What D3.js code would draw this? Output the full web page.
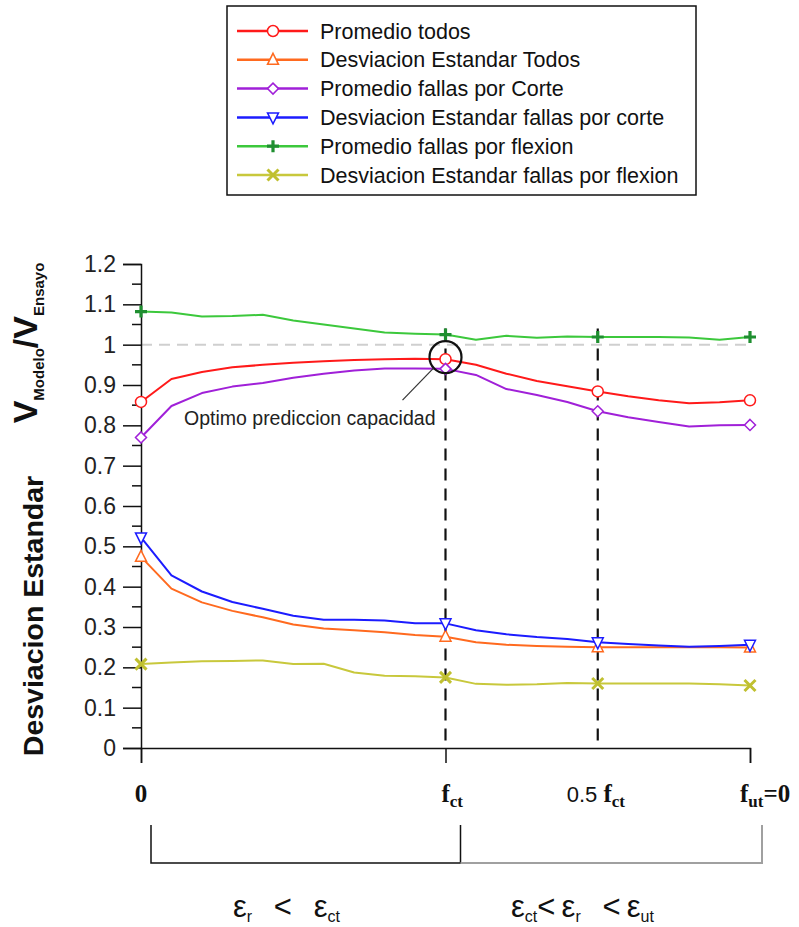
<!DOCTYPE html>
<html>
<head>
<meta charset='utf-8'>
<title>Promedio y desviacion estandar</title>
<style>
  body {margin: 0; background: #fff;}
  .tick text {font-family: "Liberation Sans", Arial, sans-serif;}
</style>
</head>
<body>
<script src='https://d3js.org/d3.v7.min.js'></script>
<script>

// x positions along the tension-softening branch: 0 .. f_ct (=1) .. 0.5 f_ct (=1.5) .. f_ut=0 (=2)
var xPos = [0, 0.1, 0.2, 0.3, 0.4, 0.5, 0.6, 0.7, 0.8, 0.9, 1.0,
            1.1, 1.2, 1.3, 1.4, 1.5, 1.6, 1.7, 1.8, 1.9, 2.0];
var markerPos = [0, 1, 1.5, 2];

var promTodos   = [0.858, 0.915, 0.932, 0.944, 0.950, 0.955, 0.959, 0.962, 0.964, 0.965, 0.964,
                   0.950, 0.928, 0.910, 0.897, 0.884, 0.872, 0.862, 0.855, 0.857, 0.862];
var desvTodos   = [0.474, 0.395, 0.361, 0.340, 0.324, 0.306, 0.296, 0.292, 0.287, 0.280, 0.276,
                   0.262, 0.256, 0.253, 0.251, 0.250, 0.250, 0.250, 0.250, 0.250, 0.249];
var promCorte   = [0.770, 0.848, 0.880, 0.896, 0.905, 0.918, 0.928, 0.936, 0.941, 0.941, 0.940,
                   0.925, 0.890, 0.875, 0.858, 0.835, 0.820, 0.808, 0.797, 0.800, 0.801];
var desvCorte   = [0.522, 0.428, 0.388, 0.362, 0.345, 0.328, 0.318, 0.318, 0.316, 0.309, 0.309,
                   0.292, 0.282, 0.275, 0.270, 0.262, 0.258, 0.254, 0.251, 0.253, 0.256];
var promFlexion = [1.082, 1.080, 1.070, 1.071, 1.074, 1.060, 1.050, 1.040, 1.030, 1.027, 1.025,
                   1.012, 1.022, 1.017, 1.020, 1.019, 1.019, 1.019, 1.018, 1.012, 1.019];
var desvFlexion = [0.208, 0.212, 0.215, 0.216, 0.217, 0.208, 0.209, 0.187, 0.179, 0.178, 0.175,
                   0.159, 0.157, 0.158, 0.161, 0.160, 0.160, 0.160, 0.160, 0.158, 0.155];

var seriesNames = ["Promedio todos", "Desviacion Estandar Todos", "Promedio fallas por Corte",
                   "Desviacion Estandar fallas por corte", "Promedio fallas por flexion",
                   "Desviacion Estandar fallas por flexion"];
var seriesValues = [promTodos, desvTodos, promCorte, desvCorte, promFlexion, desvFlexion];
var lineColors   = ["#ff1a1a", "#ff6a1f", "#a020d8", "#1c1cff", "#3cc83c", "#c8c83c"];
var markColors   = ["#ff1a1a", "#ff6a1f", "#a020d8", "#1c1cff", "#1f8f30", "#c0c030"];
var markTypes    = ["circle", "triUp", "diamond", "triDown", "plus", "cross"];

var yTicks = [0, 0.1, 0.2, 0.3, 0.4, 0.5, 0.6, 0.7, 0.8, 0.9, 1, 1.1, 1.2];
var yTickLabels = ["0", "0.1", "0.2", "0.3", "0.4", "0.5", "0.6", "0.7", "0.8", "0.9", "1", "1.1", "1.2"];

var W = 799, H = 927;
var sans = "'Liberation Sans', Arial, sans-serif";
var serif = "'Liberation Serif', 'Times New Roman', serif";

var svg = d3.select('body').append('svg').attr('width', W).attr('height', H);
svg.append('rect').attr('width', W).attr('height', H).attr('fill', '#fff');

var x = d3.scaleLinear().domain([0, 2]).range([141, 750]);
var y = d3.scaleLinear().domain([0, 1.2]).range([748, 264]);

// reference line at 1
svg.append('line')
  .attr('x1', x(0)).attr('x2', x(2)).attr('y1', y(1)).attr('y2', y(1))
  .attr('stroke', '#cfcfcf').attr('stroke-width', 2).attr('stroke-dasharray', '11,7');

// vertical dashed guides at f_ct and 0.5 f_ct
[1, 1.5].forEach(function(v) {
  svg.append('line')
    .attr('x1', x(v)).attr('x2', x(v)).attr('y1', y(1.04)).attr('y2', y(0))
    .attr('stroke', '#111').attr('stroke-width', 2.2).attr('stroke-dasharray', '12,8');
});

// y axis with major and minor ticks
var yAxis = d3.axisLeft(y).tickValues(yTicks).tickSize(18)
  .tickFormat(function(d, i) { return yTickLabels[i]; });
var gy = svg.append('g').attr('transform', 'translate(' + x(0) + ',0)').call(yAxis);
gy.select('.domain').attr('stroke', '#111').attr('stroke-width', 1.5);
gy.selectAll('.tick line').attr('stroke', '#111').attr('stroke-width', 1.5);
gy.selectAll('.tick text').attr('font-size', 23).attr('fill', '#222').attr('x', -25);
var minor = d3.range(0.05, 1.2, 0.1);
gy.selectAll('.minor').data(minor).enter().append('line')
  .attr('x1', -9).attr('x2', 0).attr('y1', function(d) { return y(d); }).attr('y2', function(d) { return y(d); })
  .attr('stroke', '#111').attr('stroke-width', 1.5);

// x axis
var xAxis = d3.axisBottom(x).tickValues([0, 1, 2]).tickSize(15).tickFormat('');
var gx = svg.append('g').attr('transform', 'translate(0,' + y(0) + ')').call(xAxis);
gx.select('.domain').attr('stroke', '#111').attr('stroke-width', 1.5);
gx.selectAll('.tick line').attr('stroke', '#111').attr('stroke-width', 1.5);

// x labels
var labY = 802;
function fLabel(lx, sub, tail, pre) {
  var t = svg.append('text').attr('x', lx).attr('y', labY)
    .attr('font-family', serif).attr('font-weight', 'bold').attr('font-size', 25).attr('fill', '#111');
  if (pre) t.append('tspan').attr('font-family', sans).attr('font-weight', 'normal')
    .attr('font-size', 22).text(pre);
  t.append('tspan').text('f');
  t.append('tspan').attr('font-size', 17).attr('dy', 5).text(sub);
  if (tail) t.append('tspan').attr('dy', -5).text(tail);
}
svg.append('text').attr('x', x(0)).attr('y', labY).attr('text-anchor', 'middle')
  .attr('font-family', serif).attr('font-weight', 'bold').attr('font-size', 25).attr('fill', '#111').text('0');
fLabel(x(1) - 4, 'ct');
fLabel(x(1.5) - 31, 'ct', null, '0.5 ');
fLabel(x(2) - 10, 'ut', '=0');

// bracket under the axis
var bTop = 825, bBot = 863;
svg.append('path')
  .attr('d', 'M' + (x(0) + 10) + ',' + bTop + 'V' + bBot + 'H' + (x(1) + 15) + 'V' + bTop)
  .attr('fill', 'none').attr('stroke', '#111').attr('stroke-width', 1.5);
svg.append('path')
  .attr('d', 'M' + (x(1) + 15) + ',' + bBot + 'H' + (x(2) + 12) + 'V' + bTop)
  .attr('fill', 'none').attr('stroke', '#a0a0a0').attr('stroke-width', 2);

function epsLabel(lx, parts) {
  var t = svg.append('text').attr('x', lx).attr('y', 917)
    .attr('font-family', sans).attr('font-size', 31).attr('fill', '#111');
  parts.forEach(function(p) {
    if (p.sub) t.append('tspan').attr('font-size', 16).attr('dy', 5).text(p.sub);
    else t.append('tspan').attr('dy', p.after ? -5 : 0).text(p.txt);
  });
}
epsLabel(233, [{txt: '\u03b5'}, {sub: 'r'}, {txt: '\u2002\u2009<\u2002\u2009\u03b5', after: true}, {sub: 'ct'}]);
epsLabel(511, [{txt: '\u03b5'}, {sub: 'ct'}, {txt: '<\u2009\u03b5', after: true}, {sub: 'r'},
               {txt: '\u2002\u2009<\u2009\u03b5', after: true}, {sub: 'ut'}]);

// y axis titles
var t1 = svg.append('text').attr('transform', 'translate(37,343) rotate(-90)')
  .attr('text-anchor', 'middle').attr('font-family', sans).attr('font-weight', 'bold')
  .attr('font-size', 34).attr('fill', '#111');
t1.append('tspan').text('V');
t1.append('tspan').attr('font-size', 15).attr('dy', 7).text('Modelo');
t1.append('tspan').attr('dy', -7).text('/V');
t1.append('tspan').attr('font-size', 15).attr('dy', 7).text('Ensayo');
svg.append('text').attr('transform', 'translate(43,616) rotate(-90)')
  .attr('text-anchor', 'middle').attr('font-family', sans).attr('font-weight', 'bold')
  .attr('font-size', 28.5).attr('fill', '#111').text('Desviacion Estandar');

// markers
function drawMarker(g, type, cx, cy, color) {
  var s = 5.5;
  if (type === 'circle') {
    g.append('circle').attr('cx', cx).attr('cy', cy).attr('r', s)
      .attr('fill', '#fff').attr('stroke', color).attr('stroke-width', 1.5);
  } else if (type === 'triUp') {
    g.append('path').attr('d', 'M' + cx + ',' + (cy - s - 1) + 'L' + (cx + s) + ',' + (cy + s - 1) + 'L' + (cx - s) + ',' + (cy + s - 1) + 'Z')
      .attr('fill', '#fff').attr('stroke', color).attr('stroke-width', 1.5);
  } else if (type === 'triDown') {
    g.append('path').attr('d', 'M' + cx + ',' + (cy + s + 1) + 'L' + (cx + s) + ',' + (cy - s + 1) + 'L' + (cx - s) + ',' + (cy - s + 1) + 'Z')
      .attr('fill', '#fff').attr('stroke', color).attr('stroke-width', 1.5);
  } else if (type === 'diamond') {
    g.append('path').attr('d', 'M' + cx + ',' + (cy - s) + 'L' + (cx + s) + ',' + cy + 'L' + cx + ',' + (cy + s) + 'L' + (cx - s) + ',' + cy + 'Z')
      .attr('fill', '#fff').attr('stroke', color).attr('stroke-width', 1.5);
  } else if (type === 'plus') {
    g.append('path').attr('d', 'M' + (cx - s - 0.5) + ',' + cy + 'H' + (cx + s + 0.5) + 'M' + cx + ',' + (cy - s - 0.5) + 'V' + (cy + s + 0.5))
      .attr('stroke', color).attr('stroke-width', 3.2);
  } else if (type === 'cross') {
    g.append('path').attr('d', 'M' + (cx - s) + ',' + (cy - s) + 'L' + (cx + s) + ',' + (cy + s) + 'M' + (cx + s) + ',' + (cy - s) + 'L' + (cx - s) + ',' + (cy + s))
      .attr('stroke', color).attr('stroke-width', 3);
  }
}

var line = d3.line()
  .x(function(d, i) { return x(xPos[i]); })
  .y(function(d) { return y(d); });

var plot = svg.append('g');
seriesValues.forEach(function(vals, k) {
  plot.append('path').datum(vals).attr('d', line)
    .attr('fill', 'none').attr('stroke', lineColors[k]).attr('stroke-width', 2)
    .attr('stroke-linejoin', 'round');
});
seriesValues.forEach(function(vals, k) {
  markerPos.forEach(function(m) {
    var i = xPos.indexOf(m);
    drawMarker(plot, markTypes[k], x(m), y(vals[i]), markColors[k]);
  });
});

// annotation of the optimum
var ox = x(1), oy = y(promTodos[10]);
svg.append('circle').attr('cx', ox).attr('cy', oy - 2).attr('r', 16)
  .attr('fill', 'none').attr('stroke', '#111').attr('stroke-width', 2.2);
svg.append('line').attr('x1', ox - 43).attr('y1', oy + 41).attr('x2', ox - 12).attr('y2', oy + 9)
  .attr('stroke', '#333').attr('stroke-width', 1.2);
svg.append('text').attr('x', ox - 10).attr('y', 425).attr('text-anchor', 'end')
  .attr('font-family', sans).attr('font-size', 19.5).attr('fill', '#222').text('Optimo prediccion capacidad');

// legend
var leg = svg.append('g');
leg.append('rect').attr('x', 227).attr('y', 6).attr('width', 469).attr('height', 189)
  .attr('fill', '#fff').attr('stroke', '#111').attr('stroke-width', 1.5);
seriesNames.forEach(function(name, k) {
  var ly = 31 + k * 28.8;
  leg.append('line').attr('x1', 237).attr('x2', 308).attr('y1', ly).attr('y2', ly)
    .attr('stroke', lineColors[k]).attr('stroke-width', 2.5);
  drawMarker(leg, markTypes[k], 273, ly, markColors[k]);
  leg.append('text').attr('x', 320).attr('y', ly + 7.5)
    .attr('font-family', sans).attr('font-size', 21.5).attr('fill', '#111').text(name);
});

</script>
</body>
</html>
